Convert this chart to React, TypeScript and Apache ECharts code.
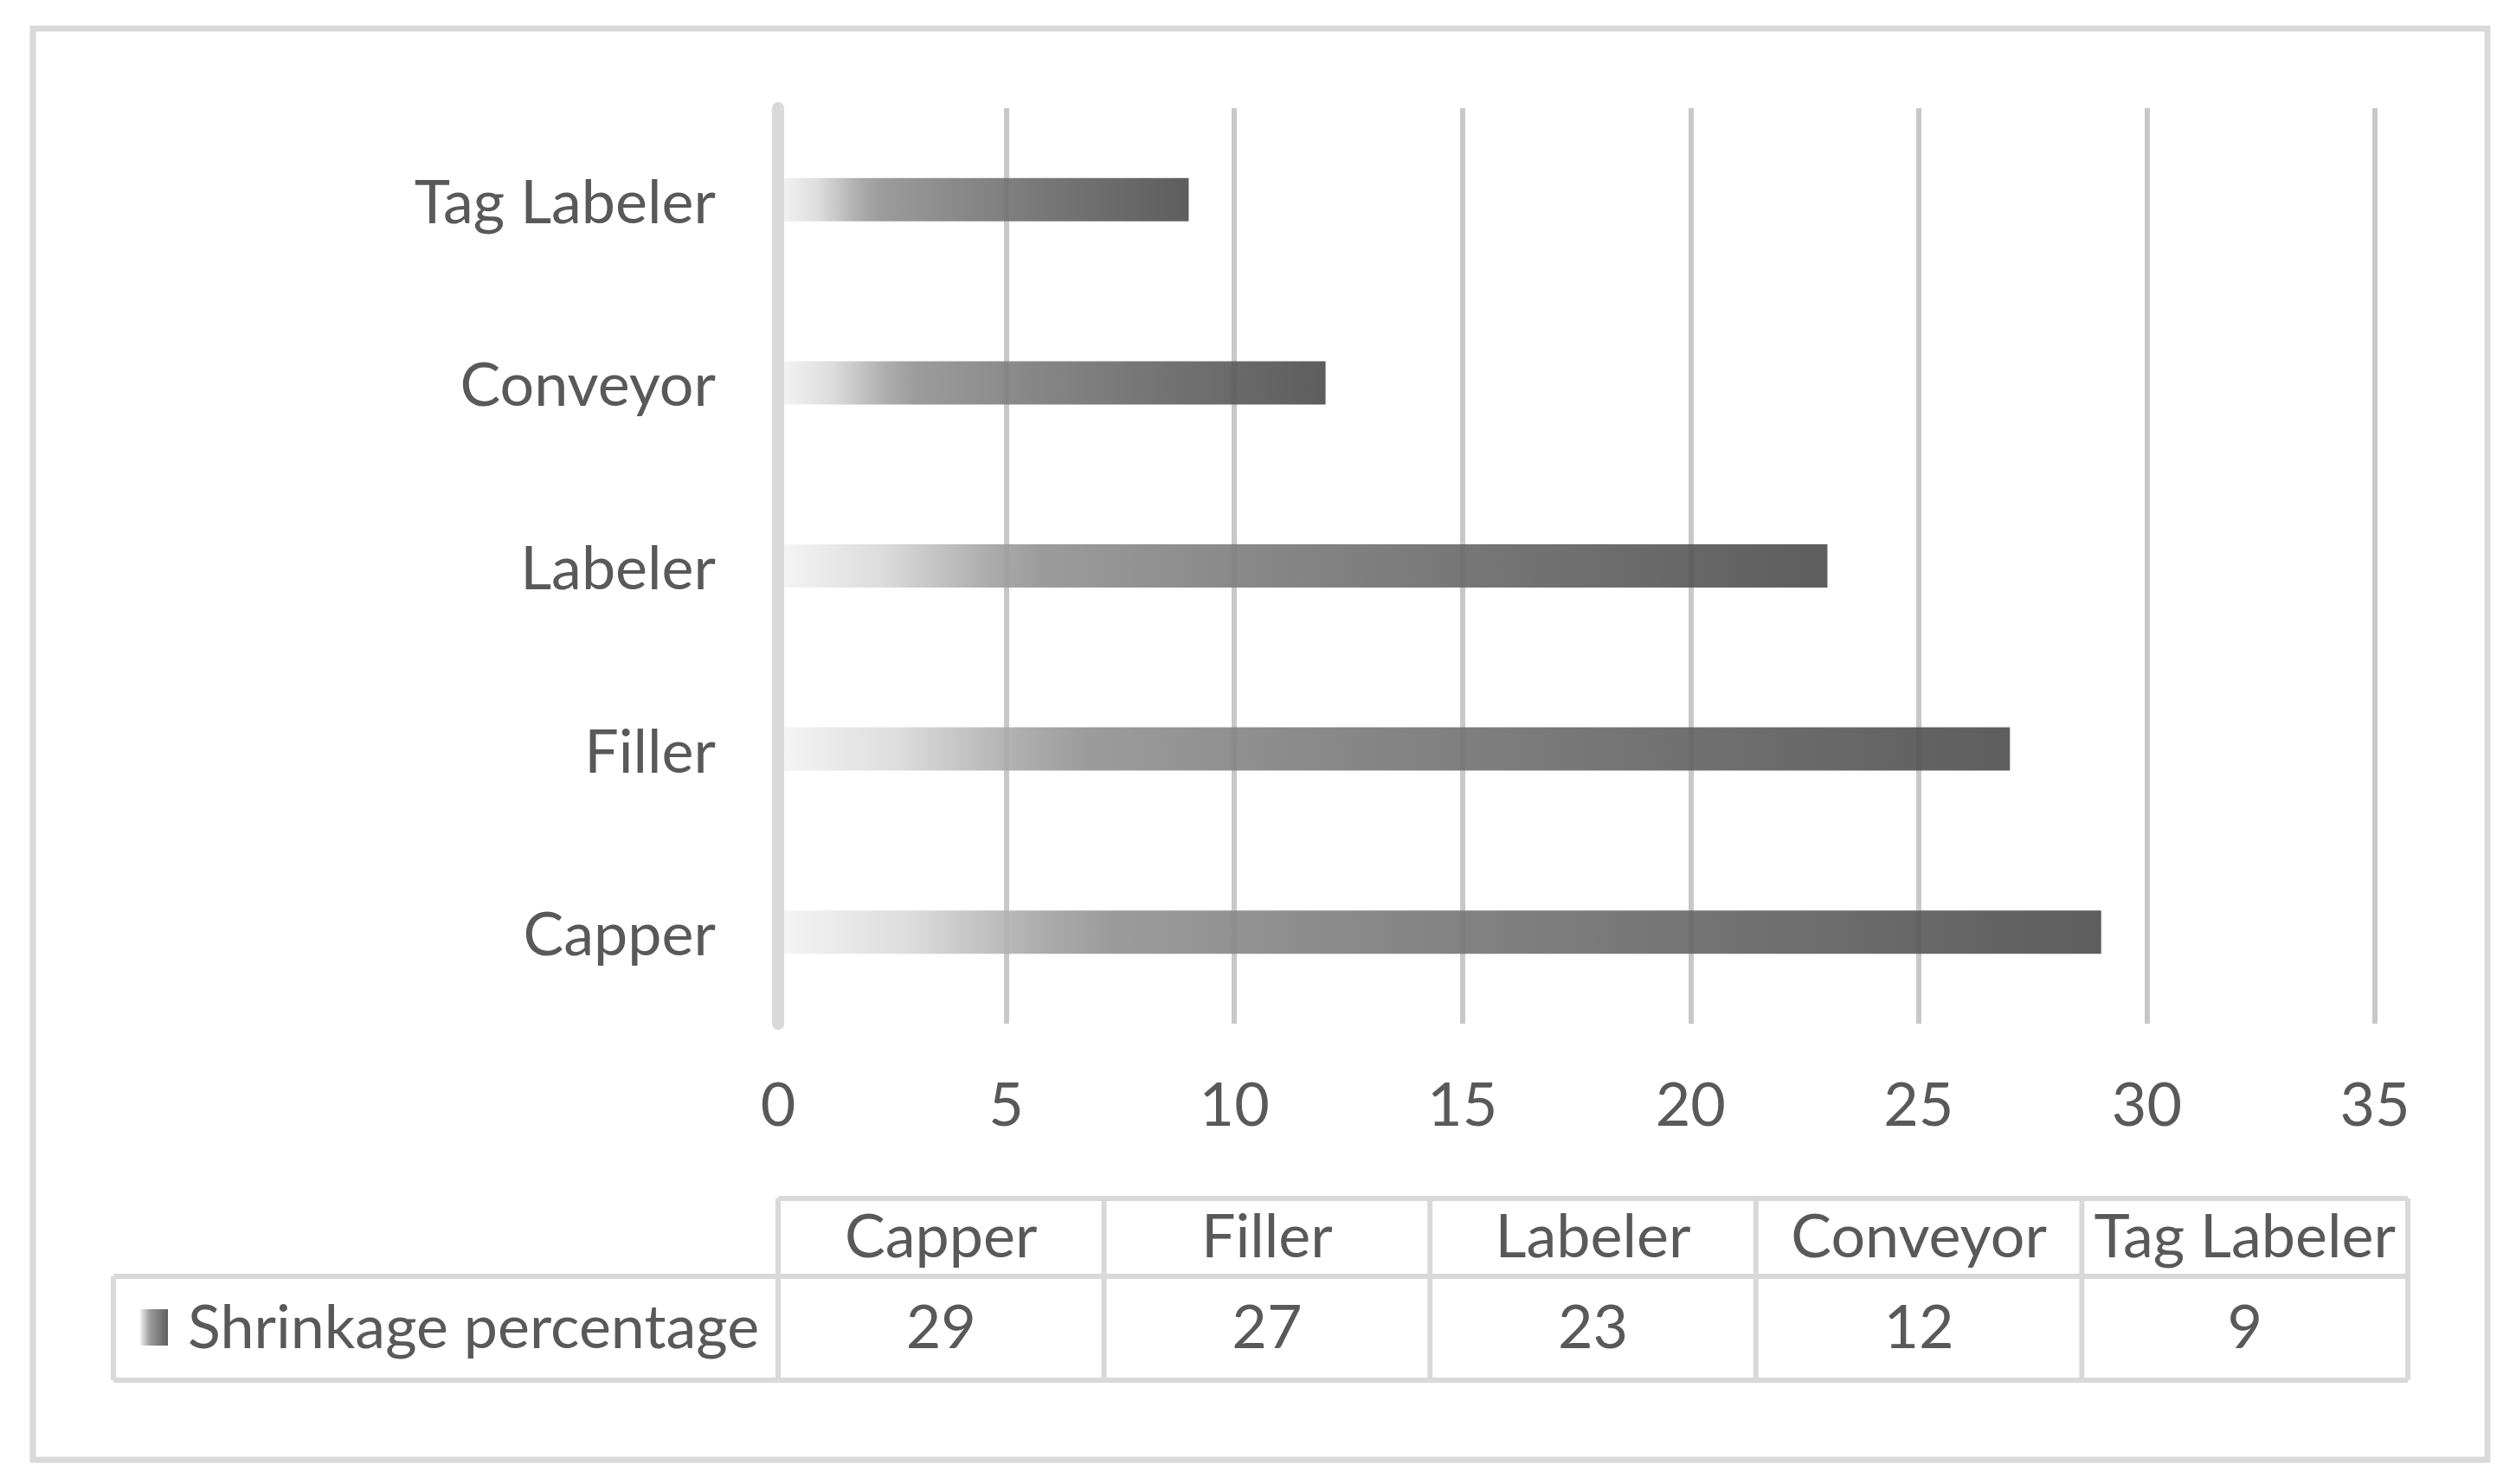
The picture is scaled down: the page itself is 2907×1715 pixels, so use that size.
import React, { useEffect, useRef } from "react";
import * as echarts from "echarts";

const categories = ["Capper", "Filler", "Labeler", "Conveyor", "Tag Labeler"];
const shrinkage = [29, 27, 23, 12, 9];
const seriesName = "Shrinkage percentage";
const xMin = 0;
const xMax = 35;
const xStep = 5;

const FONT = "Lato";
const FS = 70;
const TEXT = "#595959";
const LINE = "#d9d9d9";

export default function App() {
  const ref = useRef<HTMLDivElement>(null);

  useEffect(() => {
    document.body.style.margin = "0";
    const chart = echarts.init(ref.current!, null, { renderer: "svg" });

    const barGradient = new echarts.graphic.LinearGradient(0, 0, 1, 0, [
      { offset: 0, color: "#f4f4f4" },
      { offset: 0.1, color: "#d8d8d8" },
      { offset: 0.2, color: "#a3a3a3" },
      { offset: 0.25, color: "#919191" },
      { offset: 0.45, color: "#7b7b7b" },
      { offset: 0.7, color: "#646464" },
      { offset: 1, color: "#4c4c4c" },
    ]);

    // data table layout
    const tLeft = 899;
    const tRight = 2782;
    const legendLeft = 131;
    const yTop = 1385;
    const yMid = 1475;
    const yBot = 1595;
    const colW = (tRight - tLeft) / categories.length;
    const textShift = -4;

    const graphics: any[] = [
      {
        type: "rect",
        shape: { x: 38, y: 33, width: 2836, height: 1654 },
        style: { fill: "none", stroke: LINE, lineWidth: 7 },
        silent: true,
      },
      { type: "line", shape: { x1: tLeft, y1: yTop, x2: tRight, y2: yTop }, style: { stroke: LINE, lineWidth: 6 } },
      { type: "line", shape: { x1: legendLeft, y1: yMid, x2: tRight, y2: yMid }, style: { stroke: LINE, lineWidth: 6 } },
      { type: "line", shape: { x1: legendLeft, y1: yBot, x2: tRight, y2: yBot }, style: { stroke: LINE, lineWidth: 6 } },
      { type: "line", shape: { x1: legendLeft, y1: yMid, x2: legendLeft, y2: yBot }, style: { stroke: LINE, lineWidth: 6 } },
    ];
    for (let i = 0; i <= categories.length; i++) {
      const x = tLeft + colW * i;
      graphics.push({
        type: "line",
        shape: { x1: x, y1: yTop, x2: x, y2: yBot },
        style: { stroke: LINE, lineWidth: 6 },
      });
    }
    categories.forEach((c, i) => {
      const cx = tLeft + colW * (i + 0.5);
      graphics.push({
        type: "text",
        x: cx,
        y: (yTop + yMid) / 2 + textShift,
        style: { text: c, fill: TEXT, font: `${FS}px ${FONT}`, align: "center", verticalAlign: "middle" },
      });
      graphics.push({
        type: "text",
        x: cx,
        y: (yMid + yBot) / 2 + textShift,
        style: { text: String(shrinkage[i]), fill: TEXT, font: `${FS}px ${FONT}`, align: "center", verticalAlign: "middle" },
      });
    });
    graphics.push({
      type: "rect",
      shape: { x: 162, y: 1513, width: 32, height: 42 },
      style: {
        fill: new echarts.graphic.LinearGradient(0, 0, 1, 0, [
          { offset: 0, color: "#f0f0f0" },
          { offset: 0.35, color: "#9a9a9a" },
          { offset: 1, color: "#5e5e5e" },
        ]),
      },
    });
    graphics.push({
      type: "text",
      x: 217,
      y: (yMid + yBot) / 2 + textShift,
      style: { text: seriesName, fill: TEXT, font: `${FS}px ${FONT}`, align: "left", verticalAlign: "middle" },
    });

    chart.setOption({
      animation: false,
      backgroundColor: "#ffffff",
      grid: { left: 899, right: 163, top: 125, bottom: 532, containLabel: false },
      xAxis: {
        type: "value",
        min: xMin,
        max: xMax,
        interval: xStep,
        axisLine: { show: false },
        axisTick: { show: false },
        splitLine: { show: true, lineStyle: { color: "#c8c8c8", width: 6 } },
        axisLabel: { color: TEXT, fontFamily: FONT, fontSize: FS, margin: 56 },
      },
      yAxis: {
        type: "category",
        data: categories,
        z: 3,
        axisLine: { show: true, lineStyle: { color: LINE, width: 14 } },
        axisTick: { show: false },
        splitLine: { show: false },
        axisLabel: { color: TEXT, fontFamily: FONT, fontSize: FS, margin: 72, padding: [0, 0, 16, 0] },
      },
      series: [
        {
          name: seriesName,
          type: "bar",
          data: shrinkage,
          barWidth: 50,
          itemStyle: { color: barGradient, opacity: 0.9 },
        },
      ],
      graphic: graphics,
    });

    return () => chart.dispose();
  }, []);

  return <div ref={ref} style={{ width: 2907, height: 1715 }} />;
}
